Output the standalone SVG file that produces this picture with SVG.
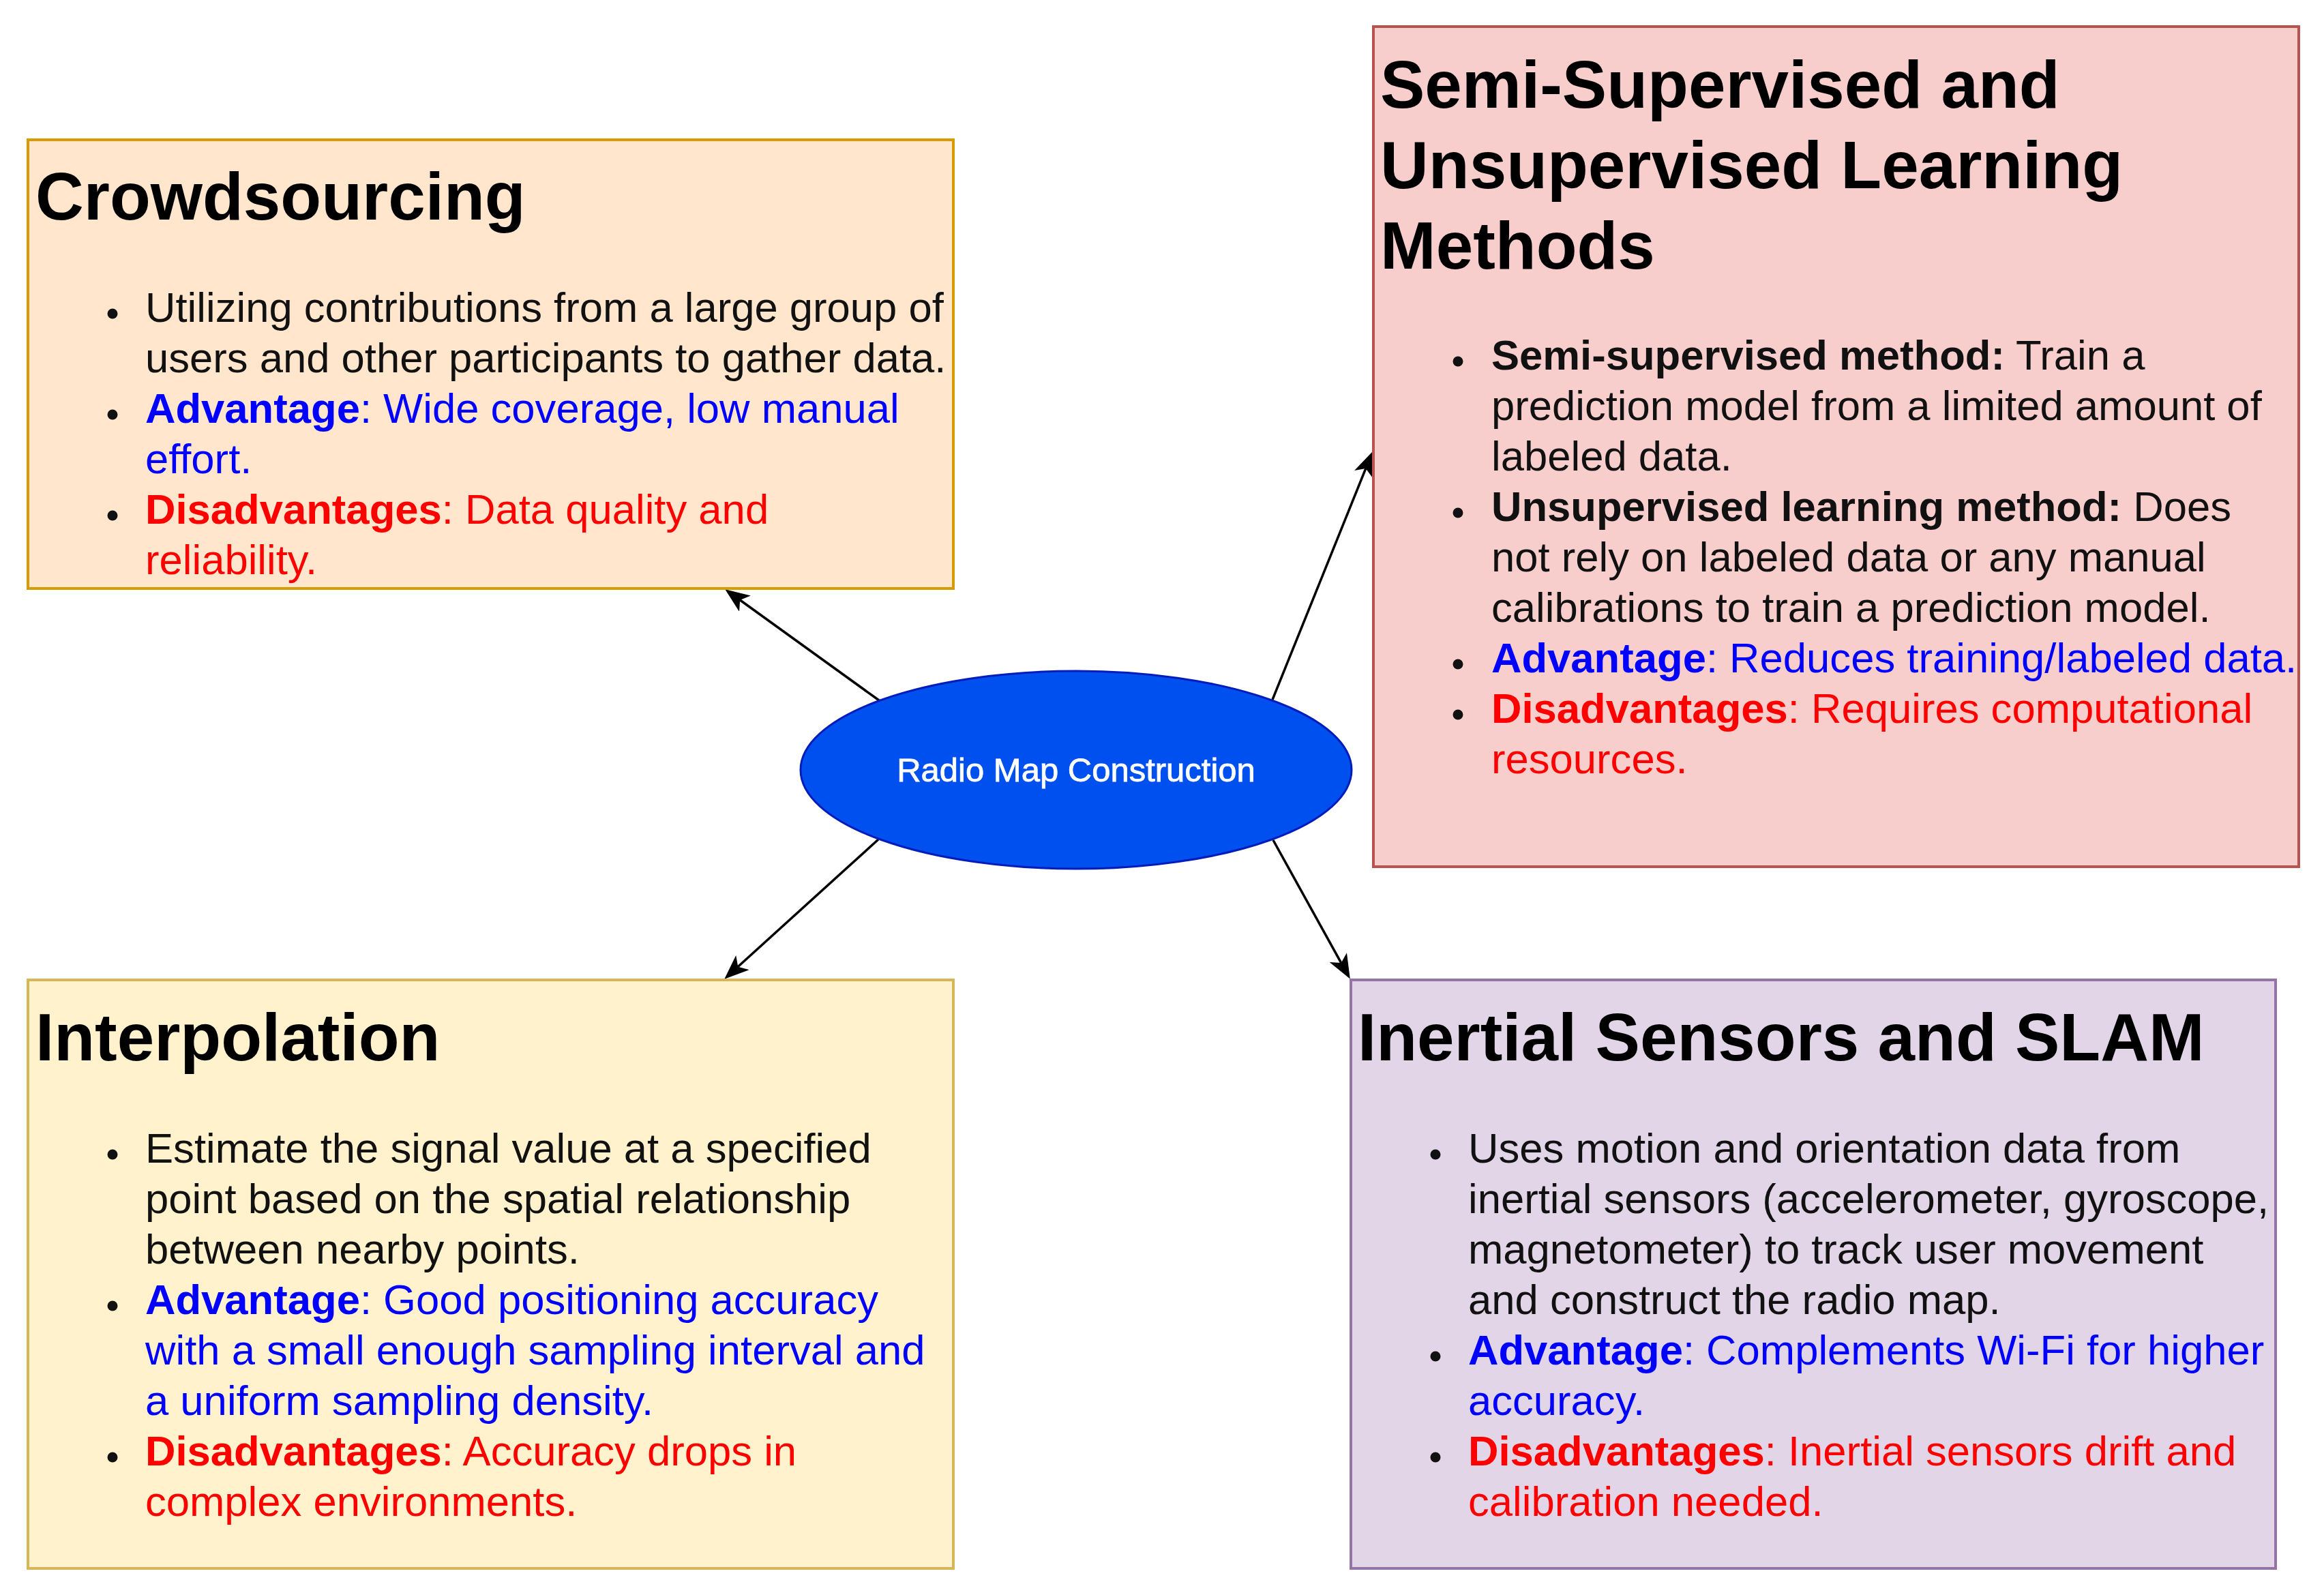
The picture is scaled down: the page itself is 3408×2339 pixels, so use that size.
<svg xmlns="http://www.w3.org/2000/svg" width="3408" height="2339" viewBox="0 0 3408 2339">
<style>
  text { font-family: "Liberation Sans", Arial, sans-serif; }
  .title { font-size: 98px; font-weight: bold; fill: #000; }
  .body { font-size: 61.6px; fill: #111; }
  .b { font-weight: bold; }
  .adv { fill: #0000ff; }
  .dis { fill: #ff0000; }
  .dot { fill: #111; }
  .edge { stroke: #000; stroke-width: 3.5; fill: none; marker-end: url(#arrow); }
</style>
<defs>
  <marker id="arrow" viewBox="0 0 20 16" refX="13" refY="8" markerWidth="36" markerHeight="28.8" markerUnits="userSpaceOnUse" orient="auto">
    <path d="M0,0 L20,8 L0,16 L5,8 z" fill="#000"/>
  </marker>
</defs>
<rect width="3408" height="2339" fill="#fff"/>

<g id="connectors">
  <line class="edge" x1="1289" y1="1027" x2="1073.5" y2="871.5"/>
  <line class="edge" x1="1866" y1="1026" x2="2008.2" y2="673.7"/>
  <line class="edge" x1="1288" y1="1231" x2="1071.6" y2="1427.3"/>
  <line class="edge" x1="1867" y1="1232" x2="1973.7" y2="1424.6"/>
</g>

<g id="crowdsourcing">
  <rect x="41" y="205" width="1357" height="658" fill="#ffe6cc" stroke="#d79b00" stroke-width="4"/>
  <text class="title" x="52" y="322">Crowdsourcing</text>
  <circle class="dot" cx="165" cy="460" r="7.5"/>
  <circle class="dot" cx="165" cy="608" r="7.5"/>
  <circle class="dot" cx="165" cy="756" r="7.5"/>
  <text class="body" x="213" y="472">Utilizing contributions from a large group of</text>
  <text class="body" x="213" y="546">users and other participants to gather data.</text>
  <text class="body adv" x="213" y="620"><tspan class="b">Advantage</tspan>: Wide coverage, low manual</text>
  <text class="body adv" x="213" y="694">effort.</text>
  <text class="body dis" x="213" y="768"><tspan class="b">Disadvantages</tspan>: Data quality and</text>
  <text class="body dis" x="213" y="842">reliability.</text>
</g>

<g id="semi-unsupervised">
  <rect x="2014" y="39" width="1357" height="1232" fill="#f8cecc" stroke="#b85450" stroke-width="4"/>
  <text class="title" x="2024" y="158">Semi-Supervised and</text>
  <text class="title" x="2024" y="276">Unsupervised Learning</text>
  <text class="title" x="2024" y="394">Methods</text>
  <circle class="dot" cx="2138" cy="530" r="7.5"/>
  <circle class="dot" cx="2138" cy="752" r="7.5"/>
  <circle class="dot" cx="2138" cy="974" r="7.5"/>
  <circle class="dot" cx="2138" cy="1048" r="7.5"/>
  <text class="body" x="2187" y="542"><tspan class="b">Semi-supervised method:</tspan> Train a</text>
  <text class="body" x="2187" y="616">prediction model from a limited amount of</text>
  <text class="body" x="2187" y="690">labeled data.</text>
  <text class="body" x="2187" y="764"><tspan class="b">Unsupervised learning method:</tspan> Does</text>
  <text class="body" x="2187" y="838">not rely on labeled data or any manual</text>
  <text class="body" x="2187" y="912">calibrations to train a prediction model.</text>
  <text class="body adv" x="2187" y="986"><tspan class="b">Advantage</tspan>: Reduces training/labeled data.</text>
  <text class="body dis" x="2187" y="1060"><tspan class="b">Disadvantages</tspan>: Requires computational</text>
  <text class="body dis" x="2187" y="1134">resources.</text>
</g>

<g id="radio-map-construction">
  <ellipse cx="1578" cy="1129" rx="404" ry="145" fill="#0050ef" stroke="#001dbc" stroke-width="3"/>
  <text x="1578" y="1146" text-anchor="middle" font-size="49" fill="#fff" stroke="#fff" stroke-width="0.8">Radio Map Construction</text>
</g>

<g id="interpolation">
  <rect x="41" y="1437" width="1357" height="863" fill="#fff2cc" stroke="#d6b656" stroke-width="4"/>
  <text class="title" x="52" y="1555">Interpolation</text>
  <circle class="dot" cx="165" cy="1693" r="7.5"/>
  <circle class="dot" cx="165" cy="1915" r="7.5"/>
  <circle class="dot" cx="165" cy="2137" r="7.5"/>
  <text class="body" x="213" y="1705">Estimate the signal value at a specified</text>
  <text class="body" x="213" y="1779">point based on the spatial relationship</text>
  <text class="body" x="213" y="1853">between nearby points.</text>
  <text class="body adv" x="213" y="1927"><tspan class="b">Advantage</tspan>: Good positioning accuracy</text>
  <text class="body adv" x="213" y="2001">with a small enough sampling interval and</text>
  <text class="body adv" x="213" y="2075">a uniform sampling density.</text>
  <text class="body dis" x="213" y="2149"><tspan class="b">Disadvantages</tspan>: Accuracy drops in</text>
  <text class="body dis" x="213" y="2223">complex environments.</text>
</g>

<g id="inertial-slam">
  <rect x="1981" y="1437" width="1356" height="863" fill="#e1d5e7" stroke="#9673a6" stroke-width="4"/>
  <text class="title" x="1991" y="1555">Inertial Sensors and SLAM</text>
  <circle class="dot" cx="2105" cy="1693" r="7.5"/>
  <circle class="dot" cx="2105" cy="1989" r="7.5"/>
  <circle class="dot" cx="2105" cy="2137" r="7.5"/>
  <text class="body" x="2153" y="1705">Uses motion and orientation data from</text>
  <text class="body" x="2153" y="1779">inertial sensors (accelerometer, gyroscope,</text>
  <text class="body" x="2153" y="1853">magnetometer) to track user movement</text>
  <text class="body" x="2153" y="1927">and construct the radio map.</text>
  <text class="body adv" x="2153" y="2001"><tspan class="b">Advantage</tspan>: Complements Wi-Fi for higher</text>
  <text class="body adv" x="2153" y="2075">accuracy.</text>
  <text class="body dis" x="2153" y="2149"><tspan class="b">Disadvantages</tspan>: Inertial sensors drift and</text>
  <text class="body dis" x="2153" y="2223">calibration needed.</text>
</g>
</svg>
